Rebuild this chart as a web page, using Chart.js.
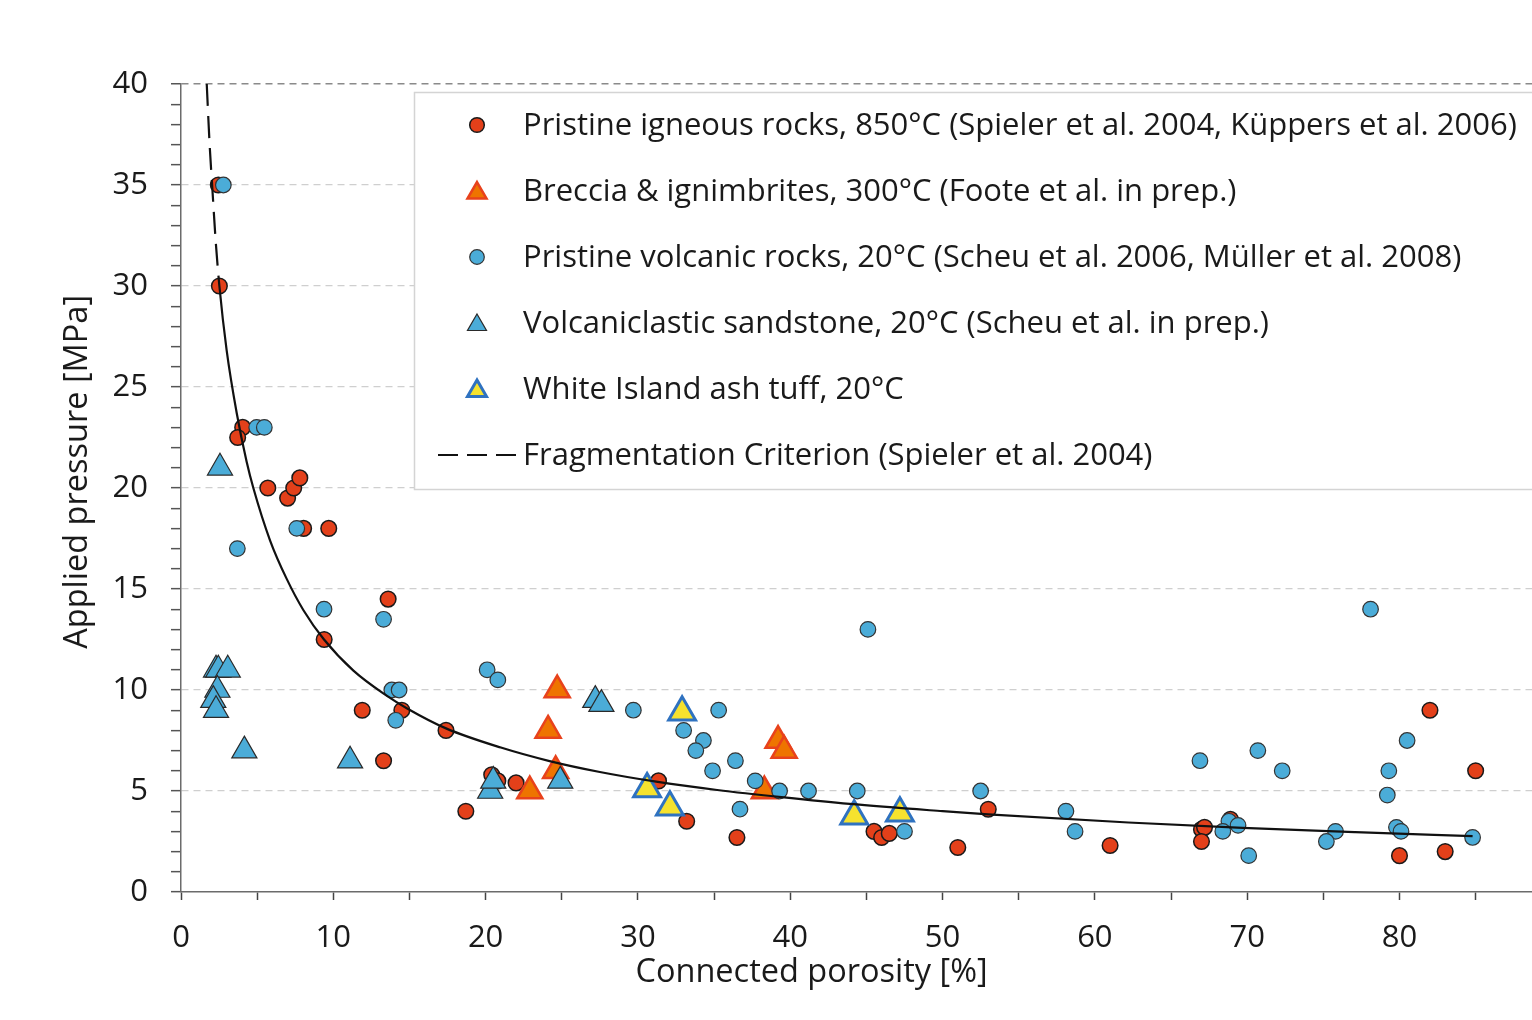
<!DOCTYPE html>
<html><head><meta charset="utf-8">
<script src="https://cdn.jsdelivr.net/npm/chart.js@4/dist/chart.umd.min.js"></script>
<style>html,body{margin:0;padding:0;background:#fff;overflow:hidden}</style>
</head><body>
<canvas id="c" width="1532" height="1020"></canvas>
<script>
// ---------- DATA ----------
const seriesLabels = [
  'Pristine igneous rocks, 850°C (Spieler et al. 2004, Küppers et al. 2006)',
  'Breccia & ignimbrites, 300°C (Foote et al. in prep.)',
  'Pristine volcanic rocks, 20°C (Scheu et al. 2006, Müller et al. 2008)',
  'Volcaniclastic sandstone, 20°C (Scheu et al. in prep.)',
  'White Island ash tuff, 20°C',
  'Fragmentation Criterion (Spieler et al. 2004)'
];
const xTitle = 'Connected porosity [%]';
const yTitle = 'Applied pressure [MPa]';

const igneousX = [2.45, 2.52, 4.05, 3.72, 5.7, 7.0, 7.4, 7.8, 8.05, 9.7, 13.6, 9.4, 11.9, 13.3, 14.5, 17.4, 18.7, 20.4, 20.8, 22.0, 31.35, 33.2, 36.5, 45.5, 46.0, 46.5, 51.0, 53.0, 61.0, 67.0, 67.2, 67.0, 68.9, 80.0, 82.0, 83.0, 85.0];
const igneousY = [35, 30, 23, 22.5, 20, 19.5, 20, 20.5, 18, 18, 14.5, 12.5, 9, 6.5, 9, 8, 4, 5.8, 5.5, 5.4, 5.5, 3.5, 2.7, 3.0, 2.7, 2.9, 2.2, 4.1, 2.3, 3.1, 3.2, 2.5, 3.6, 1.8, 9.0, 2.0, 6.0];

const brecciaX = [22.9, 24.7, 24.1, 24.6, 38.3, 39.2, 39.6];
const brecciaY = [5.0, 10.0, 8.0, 6.0, 5.0, 7.5, 7.0];

const volcanicX = [2.78, 4.97, 5.47, 7.6, 3.7, 9.39, 13.3, 13.84, 14.32, 14.1, 20.1, 20.8, 29.7, 33.0, 35.3, 34.3, 33.8, 34.9, 36.4, 36.7, 37.7, 39.3, 41.2, 44.4, 45.1, 47.5, 52.5, 58.1, 58.7, 66.9, 68.8, 68.4, 69.4, 70.1, 70.7, 72.3, 75.8, 75.2, 78.1, 79.3, 79.2, 79.8, 80.1, 80.5, 84.8];
const volcanicY = [35, 23, 23, 18, 17, 14, 13.5, 10, 10, 8.5, 11, 10.5, 9, 8, 9, 7.5, 7, 6, 6.5, 4.1, 5.5, 5, 5, 5, 13, 3, 5, 4, 3, 6.5, 3.5, 3.0, 3.3, 1.8, 7, 6, 3, 2.5, 14, 6, 4.8, 3.2, 3.0, 7.5, 2.7];

const sandstoneX = [2.56, 2.3, 2.45, 3.07, 2.39, 2.12, 2.3, 4.16, 11.1, 20.3, 20.5, 24.9, 27.2, 27.6];
const sandstoneY = [21, 11, 11, 11, 10, 9.5, 9, 7, 6.5, 5, 5.5, 5.5, 9.5, 9.3];

const tuffX = [32.9, 30.6, 32.1, 44.2, 47.2];
const tuffY = [8.9, 5.1, 4.2, 3.75, 3.9];

const criterionX = [1.69, 1.88, 2.06, 2.28, 2.52, 3.0, 3.66, 4.31, 4.75, 5.85, 6.94, 8.04, 9.39, 11.32, 13.5, 14.82, 17.4, 21.0, 24.2, 27.5, 31.2, 35.2, 39.6, 43.9, 50.0, 53.0, 62.2, 69.7, 77.1, 84.8];
const criterionY = [40, 37.0, 34.8, 32.2, 30, 26.8, 23.7, 21.3, 20.0, 17.4, 15.5, 13.95, 12.5, 10.96, 9.72, 9.1, 8.1, 7.15, 6.48, 5.94, 5.46, 5.05, 4.68, 4.36, 4.0, 3.84, 3.44, 3.17, 2.96, 2.77];
const criterionDashedAbove = 30; // extrapolated part drawn dashed

const xMin = 0, xMax = 88.7, xStep = 5, xLabelEvery = 10;
const yMin = 0, yMax = 40, yStep = 1, yLabelEvery = 5;
// -------------------------------------------------------------

const FONT = "'Open Sans', Lato, sans-serif";
const pts = (xs, ys) => xs.map((x, i) => ({x, y: ys[i]}));

const datasets = [
  {label: seriesLabels[0], data: pts(igneousX, igneousY), pointStyle: 'circle', pointRadius: 7.8,
   backgroundColor: '#E3401A', borderColor: '#1a1a1a', borderWidth: 1.5, legendRadius: 7.3, order: 5},
  {label: seriesLabels[1], data: pts(brecciaX, brecciaY), pointStyle: 'triangle', pointRadius: 14.5,
   backgroundColor: '#EE7400', borderColor: '#E8421C', borderWidth: 2.5, legendRadius: 11, order: 4},
  {label: seriesLabels[2], data: pts(volcanicX, volcanicY), pointStyle: 'circle', pointRadius: 7.8,
   backgroundColor: '#4BACD8', borderColor: '#333333', borderWidth: 1.2, legendRadius: 7.3, order: 3},
  {label: seriesLabels[3], data: pts(sandstoneX, sandstoneY), pointStyle: 'triangle', pointRadius: 14.5,
   backgroundColor: '#4BACD8', borderColor: '#2a2a2a', borderWidth: 1.2, legendRadius: 11, order: 2},
  {label: seriesLabels[4], data: pts(tuffX, tuffY), pointStyle: 'triangle', pointRadius: 15.5,
   backgroundColor: '#F6E22E', borderColor: '#2F72C0', borderWidth: 3, legendRadius: 11, order: 1},
  {label: seriesLabels[5], data: pts(criterionX, criterionY), showLine: true, pointRadius: 0,
   borderColor: '#111111', borderWidth: 2.2, borderDash: [22, 10], cubicInterpolationMode: 'monotone',
   segment: {borderDash: ctx => ctx.p1.parsed.y >= criterionDashedAbove ? undefined : []}, order: 0}
];
datasets.forEach(d => {
  if (!d.showLine) {
    d.pointBackgroundColor = d.backgroundColor;
    d.pointBorderColor = d.borderColor;
    d.pointBorderWidth = d.borderWidth;
    d.pointHoverRadius = d.pointRadius;
  }
});

const legendBox = {
  id: 'legendBox',
  beforeDatasetsDraw(chart) {
    const ctx = chart.ctx;
    const left = 414, top = 92, bottom = 489, right = chart.width + 10;
    ctx.save();
    ctx.fillStyle = '#fff';
    ctx.fillRect(left, top, right - left, bottom - top);
    ctx.strokeStyle = '#d4d4d4';
    ctx.lineWidth = 1.5;
    ctx.strokeRect(left + 0.5, top + 0.5, right - left, bottom - top);
    ctx.font = '31px ' + FONT;
    ctx.textBaseline = 'middle';
    ctx.textAlign = 'left';
    chart.data.datasets.forEach((ds, i) => {
      const y = 125 + i * 66;
      ctx.save();
      if (ds.showLine) {
        ctx.strokeStyle = ds.borderColor;
        ctx.lineWidth = 2;
        ctx.setLineDash([20, 9]);
        ctx.beginPath(); ctx.moveTo(438, y); ctx.lineTo(516, y); ctx.stroke();
      } else {
        ctx.fillStyle = ds.backgroundColor;
        ctx.strokeStyle = ds.borderColor;
        ctx.lineWidth = ds.borderWidth;
        const yy = ds.pointStyle === 'triangle' ? y + 2 : y;
        Chart.helpers.drawPoint(ctx, {pointStyle: ds.pointStyle, radius: ds.legendRadius, borderWidth: ds.borderWidth, rotation: 0}, 477, yy);
      }
      ctx.restore();
      ctx.fillStyle = '#1a1a1a';
      ctx.fillText(ds.label, 523, y + 1);
    });
    ctx.restore();
  }
};

const axisTitles = {
  id: 'axisTitles',
  afterDraw(chart) {
    const ctx = chart.ctx;
    const xs = chart.scales.x;
    ctx.save();
    ctx.fillStyle = '#1a1a1a';
    ctx.font = '32.5px ' + FONT;
    ctx.textAlign = 'center';
    ctx.textBaseline = 'middle';
    ctx.fillText(xTitle, xs.getPixelForValue(41.4), 973);
    ctx.translate(78, chart.scales.y.getPixelForValue(20.8));
    ctx.rotate(-Math.PI / 2);
    ctx.fillText(yTitle, 0, 0);
    ctx.restore();
  }
};

new Chart(document.getElementById('c'), {
  type: 'scatter',
  data: {datasets},
  options: {
    responsive: false,
    devicePixelRatio: 1,
    animation: false,
    events: [],
    layout: {autoPadding: false, padding: {left: 0, right: 0, top: 84, bottom: 0}},
    plugins: {legend: {display: false}, tooltip: {enabled: false}},
    scales: {
      x: {
        type: 'linear', min: xMin, max: xMax,
        afterFit: s => { s.height = 128; s.paddingRight = 0; s.paddingLeft = 0; },
        ticks: {stepSize: xStep, includeBounds: false, autoSkip: false, maxRotation: 0,
          padding: 20, color: '#1a1a1a', font: {family: FONT, size: 31},
          callback: v => (v % xLabelEvery === 0 ? v : '')},
        grid: {drawOnChartArea: false, drawTicks: true, tickLength: 8, color: '#555', tickColor: '#444', tickWidth: 1.5},
        border: {display: true, color: '#6b6b6b', width: 1.5}
      },
      y: {
        type: 'linear', min: yMin, max: yMax,
        afterFit: s => { s.width = 181; },
        ticks: {stepSize: yStep, autoSkip: false, padding: 23, color: '#1a1a1a', font: {family: FONT, size: 31},
          callback: v => (v % yLabelEvery === 0 ? v : '')},
        grid: {
          drawTicks: true, tickLength: 10, tickWidth: 1.5, tickColor: '#555',
          lineWidth: ctx => (ctx.tick && ctx.tick.value === yMax ? 1.5 : 1.3),
          color: ctx => {
            const v = ctx.tick ? ctx.tick.value : 0;
            if (v === yMax) return '#8a8a8a';
            if (v > 0 && v % yLabelEvery === 0) return '#cfcfcf';
            return 'rgba(0,0,0,0)';
          }
        },
        border: {display: true, color: '#6b6b6b', width: 1.5, dash: [7, 5]}
      }
    }
  },
  plugins: [legendBox, axisTitles]
});
</script>
</body></html>
